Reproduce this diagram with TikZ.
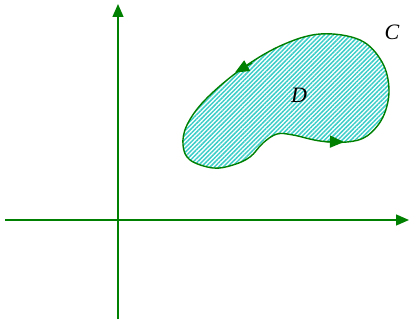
\documentclass[tikz,border=0pt]{standalone}
\usepackage{fontspec}
\setmainfont{Liberation Serif}
\usetikzlibrary{arrows.meta,patterns.meta}
\definecolor{axgreen}{RGB}{0,128,0}
\definecolor{hatch}{RGB}{60,205,200}
\begin{document}
\begin{tikzpicture}[x=1pt,y=-1pt,
  axis/.style={draw=axgreen,line width=1.3pt,-{Triangle[length=13pt,width=11pt]}},
  boundary/.style={draw=axgreen,line width=1.4pt},
  dirtip/.style={draw=axgreen,line width=1.4pt,-{Triangle[length=14pt,width=12pt]}},
  lbl/.style={font=\fontsize{22}{24}\selectfont\itshape,inner sep=0pt}]
\useasboundingbox (0,0) rectangle (409,320);
% axes
\coordinate (xs) at (5,220);
\coordinate (xe) at (409,220);
\coordinate (ys) at (118,319);
\coordinate (ye) at (118,4);
\draw[axis] (xs) -- (xe);
\draw[axis] (ys) -- (ye);
% region
\def\blob{plot[smooth cycle,tension=0.6] coordinates {(320,34) (280,46) (240,70) (205,100) (187,125) (183,145) (190,160) (213,168) (233,165) (250,157) (263,143) (277,134) (293,135) (320,141) (347,142) (367,136) (383,117) (389,90) (382,62) (360,40)}}
\path[pattern={Lines[angle=45,distance=3.1pt,line width=1.5pt]},pattern color=hatch] \blob;
\draw[boundary] \blob;
% direction arrows
\coordinate (a1) at (252,63);
\coordinate (a2) at (235,72.5);
\coordinate (b1) at (324,141.5);
\coordinate (b2) at (344,142);
\draw[dirtip] (a1) -- (a2);
\draw[dirtip] (b1) -- (b2);
\node[lbl] (D) at (299,95) {D};
\node[lbl] (C) at (392,32) {C};
\end{tikzpicture}
\end{document}
